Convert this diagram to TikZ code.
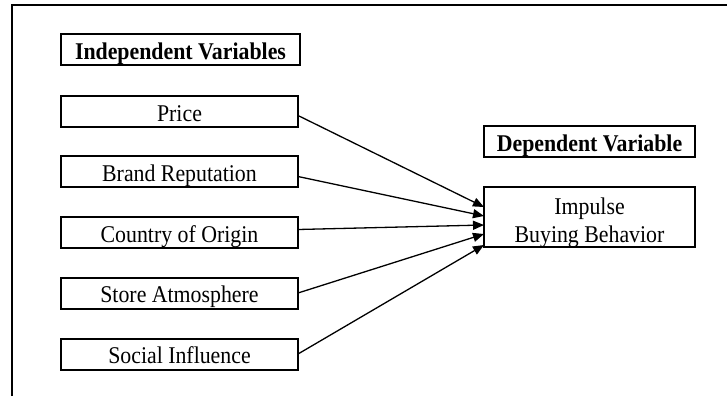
\documentclass[tikz,border=0pt]{standalone}
\usepackage{fontspec}
\setmainfont{Liberation Serif}[FakeStretch=0.91]
\usetikzlibrary{arrows.meta}
\begin{document}
\begin{tikzpicture}[x=0.5pt,y=-0.5pt,
  font=\fontsize{12}{14}\selectfont,
  varbox/.style={draw, line width=1pt, inner sep=0pt, outer sep=0pt,
    minimum width=118.5pt, minimum height=15.5pt, align=center,
    text height=10pt, text depth=0.5pt},
  headbox/.style={varbox, font=\fontsize{12}{14}\selectfont\bfseries},
  link/.style={line width=0.65pt, -{Triangle[length=5.5pt,width=4.5pt]}},
  frameline/.style={line width=0.8pt}]
\useasboundingbox (0,0) rectangle (727,396);
% frame
\coordinate (fa) at (12,396);
\coordinate (fb) at (12,5);
\coordinate (fc) at (727,5);
\draw[frameline] (fa) -- (fb) -- (fc);
% independent variables
\node[headbox, minimum width=119.5pt] (indep) at (180.5,49.5) {Independent Variables};
\node[varbox] (price)   at (179.5,111.5) {Price};
\node[varbox] (brand)   at (179.5,171.5) {Brand Reputation};
\node[varbox] (country) at (179.5,232.5) {Country of Origin};
\node[varbox] (store)   at (179.5,293)   {Store Atmosphere};
\node[varbox] (social)  at (179.5,354)   {Social Influence};
% dependent variable
\node[headbox, minimum width=105.5pt] (dep) at (589.5,141.5) {Dependent Variable};
\node[draw, line width=1pt, inner sep=0pt, outer sep=0pt, minimum width=105.5pt, minimum height=30pt] (imp) at (589.5,217) {};
\node (imptext) at (589.5,223) [align=center] {Impulse\\Buying Behavior};
% arrow targets on the left side of the outcome box
\coordinate (t1) at (484,207);
\coordinate (t2) at (484,216);
\coordinate (t3) at (484,225);
\coordinate (t4) at (484,234);
\coordinate (t5) at (484,245);
\draw[link] ([yshift=-2pt]price.east) -- (t1);
\draw[link] ([yshift=-2.5pt]brand.east) -- (t2);
\draw[link] ([yshift=1.5pt]country.east) -- (t3);
\draw[link] (store.east) -- (t4);
\draw[link] (social.east) -- (t5);
\end{tikzpicture}
\end{document}
